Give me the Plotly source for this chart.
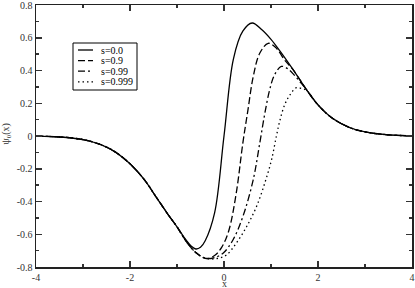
import plotly.graph_objects as go

# ---- data ----
left_tail_x = [-4.0, -3.5, -3.0, -2.6, -2.3, -2.0, -1.7, -1.45, -1.2, -1.0]
left_tail_y = [-0.001, -0.006, -0.022, -0.055, -0.10, -0.17, -0.265, -0.37, -0.475, -0.555]
right_tail_x = [2.0, 2.3, 2.67, 3.0, 3.5, 4.0]
right_tail_y = [0.19, 0.11, 0.052, 0.025, 0.007, 0.001]

x_s0 = [-0.8, -0.7, -0.6, -0.5, -0.4, -0.2, 0.0, 0.2, 0.4, 0.6, 0.8, 1.0, 1.2, 1.47, 1.75]
y_s0 = [-0.638, -0.672, -0.69, -0.68, -0.64, -0.47, 0.0, 0.47, 0.64, 0.69, 0.65, 0.59, 0.515, 0.405, 0.285]

x_s09 = [-0.8, -0.6, -0.38, -0.2, -0.05, 0.1, 0.26, 0.40, 0.51, 0.62, 0.76, 0.94, 1.1, 1.3, 1.47, 1.75]
y_s09 = [-0.645, -0.712, -0.748, -0.73, -0.68, -0.58, -0.35, -0.045, 0.16, 0.36, 0.505, 0.566, 0.54, 0.46, 0.405, 0.285]

x_s099 = [-0.8, -0.6, -0.375, -0.2, -0.02, 0.19, 0.40, 0.62, 0.76, 0.87, 0.97, 1.07, 1.22, 1.36, 1.5, 1.62, 1.75]
y_s099 = [-0.645, -0.712, -0.748, -0.742, -0.716, -0.635, -0.493, -0.269, -0.045, 0.14, 0.28, 0.37, 0.425, 0.41, 0.37, 0.33, 0.285]

x_s0999 = [-0.8, -0.6, -0.375, -0.15, 0.05, 0.26, 0.48, 0.69, 0.866, 1.01, 1.115, 1.185, 1.29, 1.40, 1.54, 1.65, 1.75]
y_s0999 = [-0.645, -0.712, -0.748, -0.748, -0.727, -0.655, -0.554, -0.432, -0.289, -0.147, 0.0, 0.09, 0.19, 0.25, 0.295, 0.29, 0.28]

labels = ["s=0.0", "s=0.9", "s=0.99", "s=0.999"]
xticks = [-4, -2, 0, 2, 4]
xtick_text = ["-4", "-2", "0", "2", "4"]
yticks = [-0.8, -0.6, -0.4, -0.2, 0, 0.2, 0.4, 0.6, 0.8]
ytick_text = ["-0.8", "-0.6", "-0.4", "-0.2", "0", "0.2", "0.4", "0.6", "0.8"]

series_x = [x_s0, x_s09, x_s099, x_s0999]
series_y = [y_s0, y_s09, y_s099, y_s0999]
dashes = ["solid", "7px,3px", "7px,3px,2px,3px", "1.5px,3px"]

FONT = "Liberation Serif, Times New Roman, serif"

fig = go.Figure()
for xs, ys, name, d in zip(series_x, series_y, labels, dashes):
    fig.add_trace(go.Scatter(
        x=left_tail_x + xs + right_tail_x,
        y=left_tail_y + ys + right_tail_y,
        mode="lines", name=name,
        line=dict(color="black", width=1.3, dash=d, shape="spline", smoothing=1.0),
        showlegend=False,
    ))

# plot area in pixels
L, R, T, B = 36, 412, 5, 267
def px(xp):
    return (xp - L) / (R - L)
def py(yp):
    return (B - yp) / (B - T)

shapes = [dict(type="rect", xref="paper", yref="paper",
               x0=px(73), x1=px(137), y0=py(90), y1=py(43),
               line=dict(color="black", width=1), fillcolor="white", layer="above")]
annotations = []
row_y = [50, 60.6, 71.2, 81.8]
for name, d, ry in zip(labels, dashes, row_y):
    shapes.append(dict(type="line", xref="paper", yref="paper",
                       x0=px(78), x1=px(93), y0=py(ry), y1=py(ry),
                       line=dict(color="black", width=1.3, dash=d), layer="above"))
    annotations.append(dict(xref="paper", yref="paper", x=px(99), y=py(ry),
                            text=name, showarrow=False, xanchor="left", yanchor="middle",
                            font=dict(family=FONT, size=10, color="black")))

annotations.append(dict(xref="paper", yref="paper", x=0.5, y=py(283.5), text="x",
                        showarrow=False, xanchor="center", yanchor="middle", borderpad=0,
                        font=dict(family=FONT, size=10, color="#333")))
annotations.append(dict(xref="paper", yref="paper", x=px(5.5), y=py(134), text="ψ<sub>0</sub>(x)",
                        showarrow=False, xanchor="center", yanchor="middle", textangle=-90,
                        font=dict(family=FONT, size=10, color="#333")))

axis_common = dict(
    showline=True, linecolor="#222", linewidth=1.5, mirror="ticks",
    ticks="inside", ticklen=6, tickwidth=1.5, tickcolor="#333",
    showgrid=False, zeroline=False, automargin=False, ticklabeloverflow="allow",
    tickfont=dict(family=FONT, size=10, color="#333"),
)
fig.update_xaxes(range=[-4, 4], tickmode="array", tickvals=xticks, ticktext=xtick_text,
                 minor=dict(ticks="inside", ticklen=3, tickwidth=1.5, tickcolor="#333", dtick=1, tick0=0),
                 **axis_common)
fig.update_yaxes(range=[-0.8, 0.8], tickmode="array", tickvals=yticks, ticktext=ytick_text,
                 minor=dict(ticks="inside", ticklen=3, tickwidth=1.5, tickcolor="#333", dtick=0.1, tick0=0),
                 **axis_common)

fig.update_layout(
    width=415, height=288,
    margin=dict(l=L, r=415 - R, t=T, b=288 - B),
    paper_bgcolor="white", plot_bgcolor="white",
    shapes=shapes, annotations=annotations,
    showlegend=False,
)
fig.write_html("out.html", config={"displayModeBar": False, "staticPlot": True},
               post_script="document.body.style.margin='0';document.body.style.overflow='hidden';")
